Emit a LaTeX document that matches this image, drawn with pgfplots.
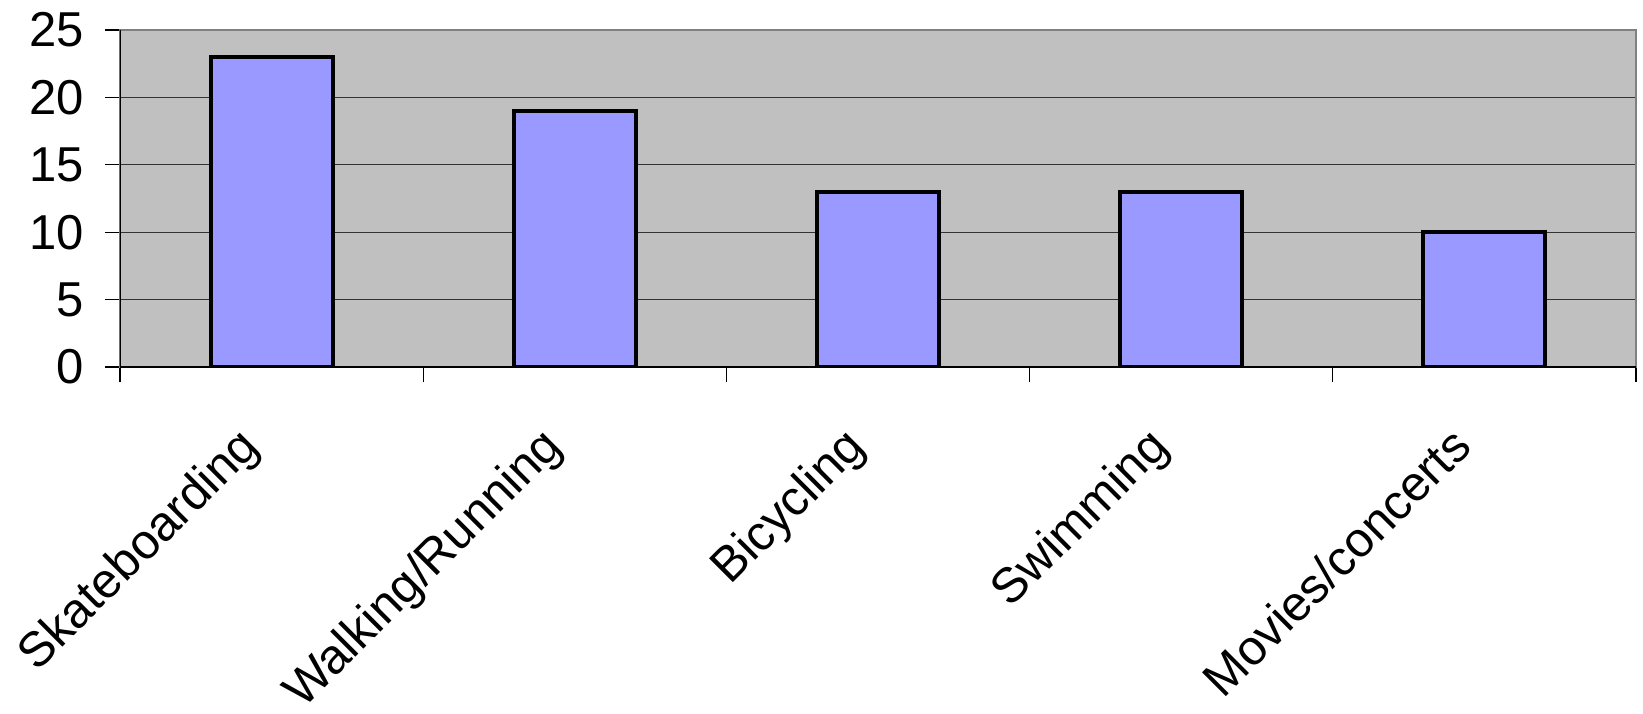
\documentclass[border=0pt]{standalone}
\usepackage{fontspec}
\setmainfont{Liberation Sans}
\usepackage{pgfplots}
\pgfplotsset{compat=1.18}
\definecolor{plotbg}{HTML}{C0C0C0}
\definecolor{barfill}{HTML}{9999FF}
\definecolor{gridc}{HTML}{333333}
\definecolor{borderc}{HTML}{808080}
\begin{document}
\begin{tikzpicture}
\useasboundingbox (-60pt,-173pt) rectangle (761.5pt,183.5pt);
\begin{axis}[
  scale only axis,
  width=758pt, height=168.5pt,
  at={(0,0)}, anchor=south west,
  xmin=-0.5, xmax=4.5,
  ymin=0, ymax=25,
  ytick={0,5,...,25},
  xtick={0,1,2,3,4},
  xticklabels={Skateboarding,Walking/Running,Bicycling,Swimming,Movies/concerts},
  minor xtick={-0.5,0.5,1.5,2.5,3.5,4.5},
  major x tick style={draw=none},
  minor x tick style={black, line width=0.6pt},
  minor tick length=7.5pt,
  major tick length=7.5pt,
  tick align=outside,
  xtick pos=bottom, ytick pos=left,
  y tick style={black, line width=0.6pt},
  ymajorgrids,
  grid style={gridc, line width=0.6pt},
  axis background/.style={fill=plotbg},
  axis line style={borderc, line width=1.2pt},
  ticklabel style={font=\fontsize{24.5}{28}\selectfont},
  /pgf/number format/assume math mode=true,
  yticklabel style={xshift=-7pt},
  xticklabel style={xshift=-18pt, yshift=-16pt, rotate=45, anchor=north east},
  axis on top=false,
]
\addplot[ybar, bar width=61pt, fill=barfill, draw=black, line width=2pt] coordinates {(0,23) (1,19) (2,13) (3,13) (4,10)};
\draw[black, line width=0.8pt] (rel axis cs:0,0) -- (rel axis cs:0,1);
\draw[black, line width=0.8pt] (rel axis cs:0,0) -- (rel axis cs:1,0);
\end{axis}
\end{tikzpicture}
\end{document}
